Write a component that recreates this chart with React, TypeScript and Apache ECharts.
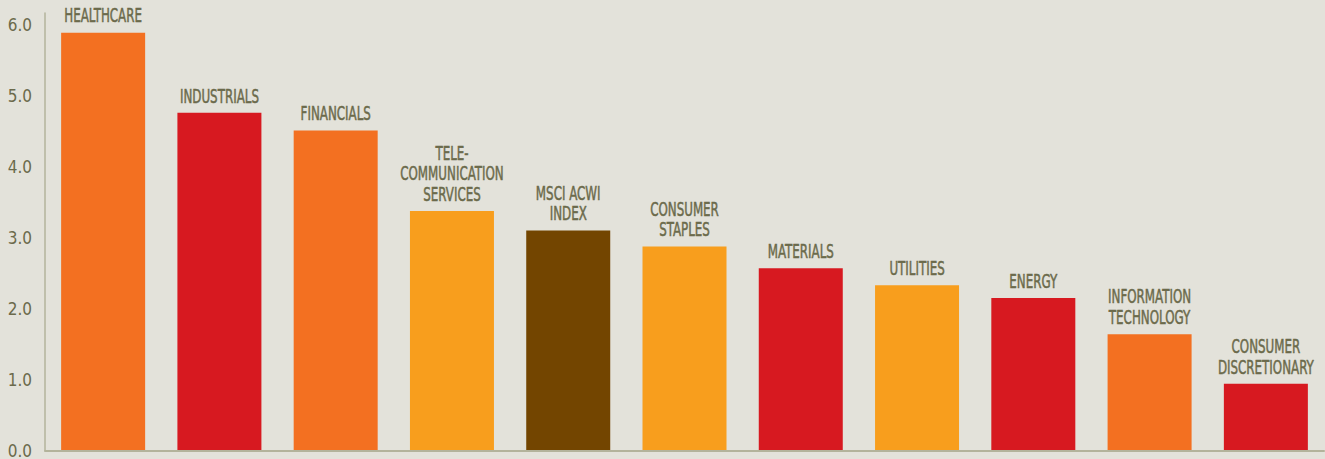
import React, { useEffect, useRef } from "react";
import * as echarts from "echarts";

const categories = [
  "HEALTHCARE",
  "INDUSTRIALS",
  "FINANCIALS",
  "TELE-\nCOMMUNICATION\nSERVICES",
  "MSCI ACWI\nINDEX",
  "CONSUMER\nSTAPLES",
  "MATERIALS",
  "UTILITIES",
  "ENERGY",
  "INFORMATION\nTECHNOLOGY",
  "CONSUMER\nDISCRETIONARY",
];
const values = [5.89, 4.76, 4.51, 3.375, 3.1, 2.875, 2.57, 2.33, 2.15, 1.64, 0.94];
const barColors = [
  "#F37021",
  "#D71920",
  "#F37021",
  "#F89E1D",
  "#734500",
  "#F89E1D",
  "#D71920",
  "#F89E1D",
  "#D71920",
  "#F37021",
  "#D71920",
];
const yTicks = [0, 1, 2, 3, 4, 5, 6];

const FONT = "'DejaVu Sans Condensed', 'Liberation Sans Narrow', sans-serif";
const TEXT = "#6B6A4B";
const AXIS = "#B3B39B";

export default function App() {
  const ref = useRef<HTMLDivElement>(null);
  useEffect(() => {
    if (!ref.current) return;
    const chart = echarts.init(ref.current, undefined, { renderer: "svg" });
    chart.setOption({
      animation: false,
      backgroundColor: "#E3E2DA",
      grid: { left: 45, right: 1, top: 13, bottom: 2, containLabel: false },
      xAxis: {
        type: "category",
        data: categories,
        boundaryGap: true,
        axisTick: { show: false },
        axisLabel: { show: false },
        axisLine: { show: true, lineStyle: { color: AXIS, width: 2 } },
        z: 5,
      },
      yAxis: {
        type: "value",
        min: 0,
        max: 6.1667,
        interval: 1,
        splitLine: { show: false },
        axisTick: { show: false },
        axisLine: { show: true, lineStyle: { color: AXIS, width: 1.5 } },
        axisLabel: {
          margin: 13,
          fontSize: 17,
          fontFamily: FONT,
          color: TEXT,
          padding: [0, 0, 10, 0],
          formatter: (v: number) => (yTicks.includes(Math.round(v * 1000) / 1000) ? v.toFixed(1) : ""),
        },
      },
      series: [
        {
          type: "bar",
          data: values.map((v, i) => ({ value: v, itemStyle: { color: barColors[i] } })),
          barWidth: 84,
          z: 2,
        },
        {
          type: "custom",
          data: values.map((v, i) => [i, v]),
          z: 3,
          renderItem: (params: any, api: any) => {
            const idx = api.value(0);
            const pt = api.coord([idx, api.value(1)]);
            return {
              type: "text",
              x: pt[0],
              y: pt[1] - 7,
              scaleX: 0.66,
              style: {
                text: categories[idx],
                fontSize: 20,
                fontFamily: FONT,
                fill: TEXT,
                stroke: TEXT,
                lineWidth: 0.5,
                align: "center",
                verticalAlign: "bottom",
                lineHeight: 20.5,
              },
            };
          },
        },
      ],
    });
    return () => chart.dispose();
  }, []);
  return (
    <div
      ref={ref}
      style={{ position: "fixed", left: 0, top: 0, width: 1325, height: 459 }}
    />
  );
}
